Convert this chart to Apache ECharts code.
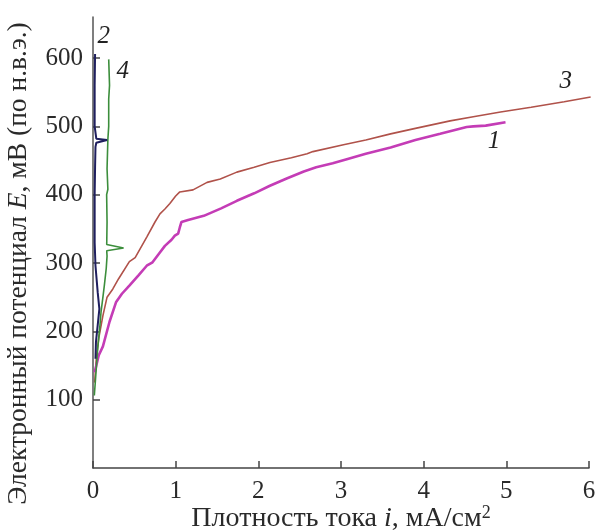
<!DOCTYPE html>
<html>
<head>
<meta charset="utf-8">
<script src="https://cdn.jsdelivr.net/npm/echarts@6/dist/echarts.min.js"></script>
<style>
  html, body { margin: 0; padding: 0; background: #fff; }
  #chart { width: 595px; height: 531px; }
</style>
</head>
<body>
<div id="chart"></div>
<script>
  // кривая 1 (малиновая)
  var x1 = [0.02, 0.04, 0.07, 0.12, 0.2, 0.28, 0.35, 0.44, 0.55, 0.65, 0.72, 0.8, 0.87, 0.95, 0.99, 1.03, 1.05, 1.07, 1.15, 1.34, 1.55, 1.74, 1.95, 2.14, 2.35, 2.55, 2.7, 2.9, 3.07, 3.3, 3.6, 3.9, 4.2, 4.52, 4.6, 4.75, 4.99];
  var y1 = [140, 150, 165, 178, 214, 243, 255, 267, 282, 296, 301, 314, 325, 334, 340, 343, 352, 360, 363, 369, 380, 391, 402, 413, 424, 434, 440, 446, 452, 460, 469, 480, 489, 499, 500, 501, 506];
  // кривая 2 (тёмно-синяя)
  var x2 = [0.03, 0.036, 0.057, 0.077, 0.057, 0.03, 0.02, 0.02, 0.025, 0.03, 0.04, 0.17, 0.04, 0.02, 0.02, 0.025];
  var y2 = [160, 185, 209, 233, 257, 296, 330, 400, 440, 470, 476, 480, 482, 500, 560, 606];
  // кривая 3 (коричневая)
  var x3 = [0.02, 0.04, 0.07, 0.12, 0.17, 0.24, 0.31, 0.44, 0.51, 0.65, 0.75, 0.81, 0.87, 0.93, 1.0, 1.05, 1.21, 1.38, 1.54, 1.74, 1.95, 2.14, 2.4, 2.59, 2.66, 3.03, 3.3, 3.6, 3.9, 4.32, 4.6, 4.93, 5.3, 5.7, 6.02];
  var y3 = [125, 160, 190, 223, 250, 262, 277, 302, 308, 338, 360, 372, 379, 387, 398, 404, 407, 418, 423, 433, 440, 447, 454, 460, 463, 473, 480, 489, 497, 508, 514, 521, 528, 536, 543];
  // кривая 4 (зелёная)
  var x4 = [0.016, 0.028, 0.045, 0.057, 0.085, 0.097, 0.12, 0.137, 0.16, 0.17, 0.166, 0.37, 0.166, 0.17, 0.165, 0.18, 0.17, 0.18, 0.19, 0.19, 0.2, 0.19];
  var y4 = [106, 126, 155, 175, 210, 228, 250, 267, 292, 310, 318, 322, 327, 360, 400, 408, 438, 481, 500, 540, 560, 598];

  var xTicks = [0, 1, 2, 3, 4, 5, 6];
  var yTicks = [100, 200, 300, 400, 500, 600];
  var curveNames = ['1', '2', '3', '4'];

  function zip(xs, ys) {
    return xs.map(function (x, i) { return [x, ys[i]]; });
  }

  var serif = 'Liberation Serif';
  var chart = echarts.init(document.getElementById('chart'));

  function curve(name, data, color, width, labelCoord) {
    return {
      name: name,
      type: 'line',
      data: data,
      showSymbol: false,
      symbol: 'none',
      silent: true,
      lineStyle: { color: color, width: width },
      markPoint: {
        symbol: 'circle',
        symbolSize: 0,
        silent: true,
        label: {
          show: true,
          formatter: name,
          fontFamily: serif,
          fontStyle: 'italic',
          fontSize: 25,
          color: '#222'
        },
        data: [{ coord: labelCoord }]
      }
    };
  }

  var option = {
    animation: false,
    backgroundColor: '#fff',
    grid: { left: 93, right: 6, top: 17, bottom: 63, outerBoundsMode: 'none', containLabel: false },
    xAxis: {
      type: 'value',
      min: 0,
      max: 6,
      interval: 1,
      name: '{n|Плотность тока }{i|i}{n|, мА/см}{s|2}',
      nameLocation: 'middle',
      nameGap: 36,
      nameMoveOverlap: false,
      nameTextStyle: {
        rich: {
          n: { fontFamily: serif, fontSize: 28, color: '#2a2a2a' },
          i: { fontFamily: serif, fontSize: 28, fontStyle: 'italic', color: '#2a2a2a' },
          s: { fontFamily: serif, fontSize: 18, color: '#2a2a2a', padding: [0, 0, 12, 0] }
        }
      },
      axisLine: { lineStyle: { color: '#444', width: 1.5 } },
      axisTick: { inside: true, length: 7, lineStyle: { color: '#444', width: 1.5 } },
      axisLabel: {
        customValues: xTicks,
        margin: 11,
        fontFamily: serif,
        fontSize: 25,
        color: '#2a2a2a'
      },
      splitLine: { show: false }
    },
    yAxis: {
      type: 'value',
      min: 0,
      max: 660,
      interval: 100,
      name: '{n|Электронный потенциал }{i|E}{n|, мВ (по н.в.э.)}',
      nameLocation: 'middle',
      nameGap: 60,
      nameMoveOverlap: false,
      nameTextStyle: {
        padding: [0, 42, 0, 0],
        rich: {
          n: { fontFamily: serif, fontSize: 27.5, color: '#2a2a2a' },
          i: { fontFamily: serif, fontSize: 27.5, fontStyle: 'italic', color: '#2a2a2a' }
        }
      },
      axisLine: { show: true, lineStyle: { color: '#555', width: 1.5 } },
      axisTick: { show: true, inside: true, length: 7, customValues: yTicks, lineStyle: { color: '#444', width: 1.5 } },
      axisLabel: {
        customValues: yTicks,
        margin: 10,
        fontFamily: serif,
        fontSize: 25,
        color: '#2a2a2a'
      },
      splitLine: { show: false }
    },
    series: [
      curve(curveNames[2], zip(x3, y3), '#b0524a', 1.6, [5.72, 566]),
      curve(curveNames[0], zip(x1, y1), '#c43cb6', 2.6, [4.85, 478]),
      curve(curveNames[3], zip(x4, y4), '#3c8e3c', 1.6, [0.36, 580]),
      curve(curveNames[1], zip(x2, y2), '#1f1f5e', 2, [0.13, 631])
    ]
  };
  chart.setOption(option);
</script>
</body>
</html>
